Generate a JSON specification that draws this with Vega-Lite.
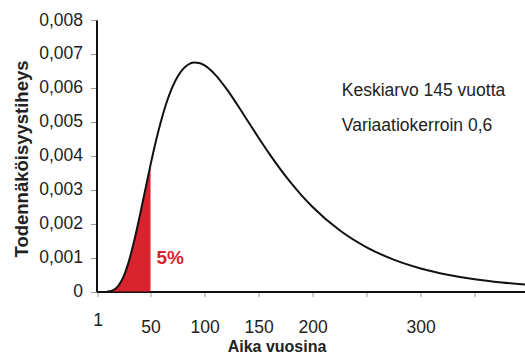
{
  "$schema": "https://vega.github.io/schema/vega-lite/v6.json",
  "width": 429,
  "height": 271.5,
  "autosize": {"type": "none"},
  "padding": {"left": 96.5, "top": 20, "right": 0, "bottom": 62.5},
  "config": {
    "view": {"stroke": null},
    "font": "Liberation Sans",
    "axis": {"labelFont": "Liberation Sans", "titleFont": "Liberation Sans", "grid": false, "labelOverlap": false, "labelFlush": false, "labelBound": false}
  },
  "datasets": {
    "curve": [
      {"t": 10, "d": 0.0000023},
      {"t": 12, "d": 0.0000083},
      {"t": 15, "d": 0.0000333},
      {"t": 20, "d": 0.000158},
      {"t": 25, "d": 0.000438},
      {"t": 30, "d": 0.000896},
      {"t": 35, "d": 0.001507},
      {"t": 40, "d": 0.002221},
      {"t": 45, "d": 0.002980},
      {"t": 50, "d": 0.003731},
      {"t": 55, "d": 0.004433},
      {"t": 60, "d": 0.005055},
      {"t": 65, "d": 0.005584},
      {"t": 70, "d": 0.006009},
      {"t": 75, "d": 0.006330},
      {"t": 80, "d": 0.006554},
      {"t": 85, "d": 0.006689},
      {"t": 90, "d": 0.006745},
      {"t": 95, "d": 0.006731},
      {"t": 100, "d": 0.006660},
      {"t": 110, "d": 0.006383},
      {"t": 120, "d": 0.005983},
      {"t": 130, "d": 0.005517},
      {"t": 140, "d": 0.005023},
      {"t": 150, "d": 0.004530},
      {"t": 160, "d": 0.004055},
      {"t": 175, "d": 0.003400},
      {"t": 180, "d": 0.003200},
      {"t": 190, "d": 0.002827},
      {"t": 200, "d": 0.002492},
      {"t": 225, "d": 0.001805},
      {"t": 250, "d": 0.001302},
      {"t": 275, "d": 0.000939},
      {"t": 300, "d": 0.000679},
      {"t": 325, "d": 0.000494},
      {"t": 350, "d": 0.000360},
      {"t": 375, "d": 0.000265},
      {"t": 397, "d": 0.000203}
    ],
    "notes": [
      {"t": 227, "d": 0.00576, "label": "Keskiarvo 145 vuotta"},
      {"t": 227, "d": 0.00473, "label": "Variaatiokerroin 0,6"}
    ],
    "pct": [
      {"t": 55.5, "d": 0.00080, "label": "5%"}
    ]
  },
  "layer": [
    {
      "data": {"name": "curve"},
      "transform": [{"filter": "datum.t <= 50"}],
      "mark": {"type": "area", "color": "#d9232f", "interpolate": "monotone"},
      "encoding": {
        "x": {
          "field": "t", "type": "quantitative",
          "scale": {"domain": [0, 397], "nice": false},
          "axis": {
            "values": [1, 50, 100, 150, 200, 250, 300, 350],
            "labelExpr": "datum.value == 250 || datum.value == 350 ? '' : datum.label",
            "domainColor": "#111111", "domainWidth": 2,
            "tickColor": "#999999", "tickWidth": 1, "tickSize": 5,
            "encoding": {"ticks": {"update": {"y": {"value": -6}}}},
            "labelFontSize": 17.5, "labelColor": "#222222",
            "labelPadding": {"condition": {"test": "datum.value == 1", "value": 15}, "value": 22},
            "title": "Aika vuosina",
            "titleFontSize": 16, "titleFontWeight": "bold", "titleColor": "#222222",
            "titleX": 180, "titleY": 60, "titleBaseline": "alphabetic", "titleAlign": "center"
          }
        },
        "y": {
          "field": "d", "type": "quantitative",
          "scale": {"domain": [0, 0.008], "nice": false},
          "axis": {
            "tickCount": 8,
            "labelOverlap": false,
            "labelExpr": "datum.value == 0 ? '0' : replace(datum.label, '.', ',')",
            "format": ".3f",
            "domainColor": "#111111", "domainWidth": 2,
            "tickColor": "#999999", "tickWidth": 1, "tickSize": 6,
            "labelFontSize": 17.5, "labelColor": "#222222", "labelPadding": 8,
            "title": "Todennäköisyystiheys",
            "titleFontSize": 18.5, "titleFontWeight": "bold", "titleColor": "#222222",
            "titlePadding": 7, "titleY": 138.5
          }
        }
      }
    },
    {
      "data": {"name": "curve"},
      "mark": {"type": "line", "color": "#111111", "strokeWidth": 2, "interpolate": "monotone"},
      "encoding": {
        "x": {"field": "t", "type": "quantitative"},
        "y": {"field": "d", "type": "quantitative"}
      }
    },
    {
      "mark": {"type": "rule", "color": "#111111", "strokeWidth": 2},
      "encoding": {"y": {"datum": 0.008}}
    },
    {
      "data": {"name": "notes"},
      "mark": {"type": "text", "align": "left", "baseline": "alphabetic", "fontSize": 17.5, "color": "#222222"},
      "encoding": {
        "x": {"field": "t", "type": "quantitative"},
        "y": {"field": "d", "type": "quantitative"},
        "text": {"field": "label"}
      }
    },
    {
      "data": {"name": "pct"},
      "mark": {"type": "text", "align": "left", "baseline": "alphabetic", "fontSize": 19, "fontWeight": "bold", "color": "#d9232f"},
      "encoding": {
        "x": {"field": "t", "type": "quantitative"},
        "y": {"field": "d", "type": "quantitative"},
        "text": {"field": "label"}
      }
    }
  ]
}
